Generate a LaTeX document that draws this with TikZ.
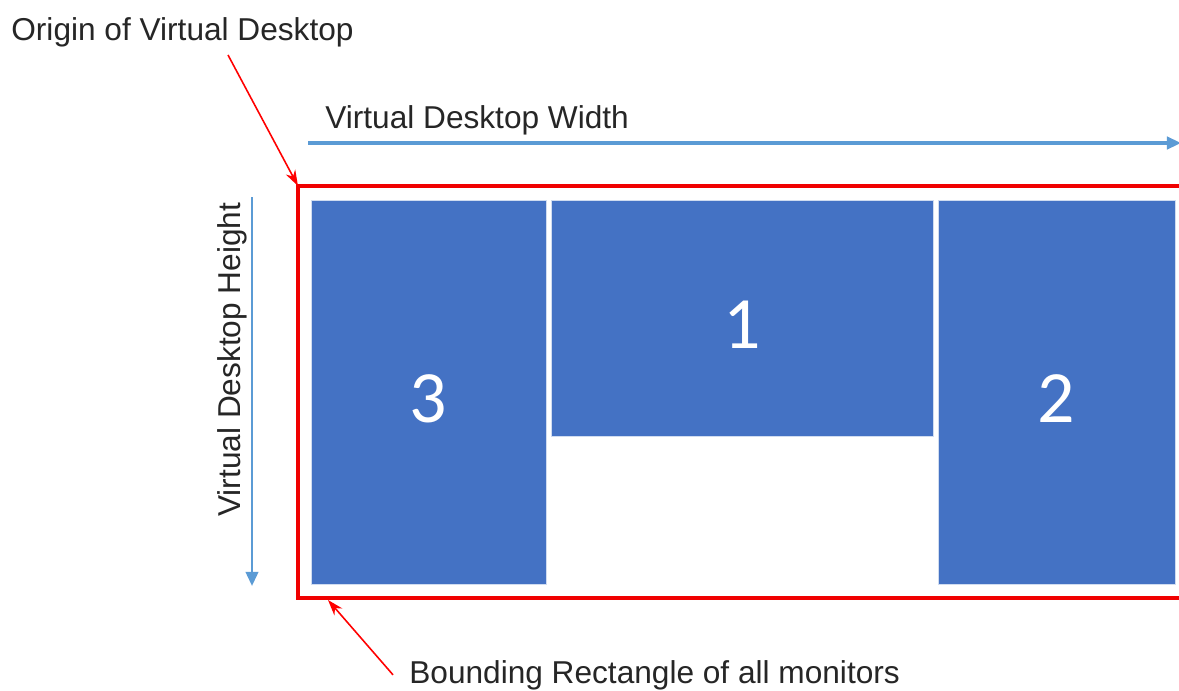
\documentclass[tikz,border=0pt]{standalone}
\usepackage{fontspec}
\setmainfont{Liberation Sans}
\newfontfamily\numfont{Carlito}
\usetikzlibrary{arrows.meta, positioning, calc}

\definecolor{monblue}{RGB}{68,114,196}
\definecolor{axisblue}{RGB}{91,155,213}
\definecolor{boundred}{RGB}{240,0,0}

\begin{document}
\begin{tikzpicture}[x=0.02cm, y=-0.02cm, >=Stealth,
    txt/.style={font=\fontsize{18}{21}\selectfont, text=black!85, inner sep=0pt},
    monitor/.style={draw=white!75!monblue, line width=0.4pt, fill=monblue, inner sep=0pt},
    num/.style={font=\numfont\fontsize{42}{48}\selectfont, text=white},
    axis/.style={->, draw=axisblue, line width=2pt, -{Triangle[length=8pt, width=7pt]}},
    pointer/.style={->, draw=red, line width=0.9pt, -{Stealth[length=9pt, width=6pt]}}]

    \clip (0,0) rectangle (1179,690);
    \fill[white] (0,0) rectangle (1179,690);

    % Rectangle englobant
    \draw[boundred, line width=2.3pt] (298,186) rectangle (1190,598);
    \coordinate (bnw) at (298,186);
    \coordinate (bsw) at (328,600);

    % Moniteurs
    \node[monitor, minimum width=4.7cm, minimum height=7.68cm, label={[num, yshift=-0.14cm]center:3}] (m3) at (428.5,392) {};
    \node[monitor, minimum width=7.64cm, minimum height=4.72cm, label={[num, yshift=-0.14cm]center:1}] (m1) at (742,318) {};
    \node[monitor, minimum width=4.74cm, minimum height=7.68cm, label={[num, yshift=-0.14cm]center:2}] (m2) at (1056.5,392) {};

    % Textes
    \node[txt, anchor=base west] (origin) at (11,40) {Origin of Virtual Desktop};
    \node[txt, anchor=base west] (width) at (325,128) {Virtual Desktop Width};
    \node[txt, anchor=base west, rotate=90] (height) at (240,517) {Virtual Desktop Height};
    \node[txt, anchor=base west] (bound) at (409,683) {Bounding Rectangle of all monitors};

    % Axes
    \coordinate (wstart) at (308,143);
    \coordinate (wend) at (1181,143);
    \coordinate (hstart) at (252,197);
    \coordinate (hend) at (252,586);
    \draw[axis] (wstart) -- (wend);
    \draw[axis, line width=1.6pt] (hstart) -- (hend);

    % Fleches
    \draw[pointer] ([xshift=4.34cm, yshift=-0.16cm]origin.south west) -- (bnw);
    \draw[pointer] ([xshift=-0.32cm]bound.west) -- (bsw);

\end{tikzpicture}
\end{document}
